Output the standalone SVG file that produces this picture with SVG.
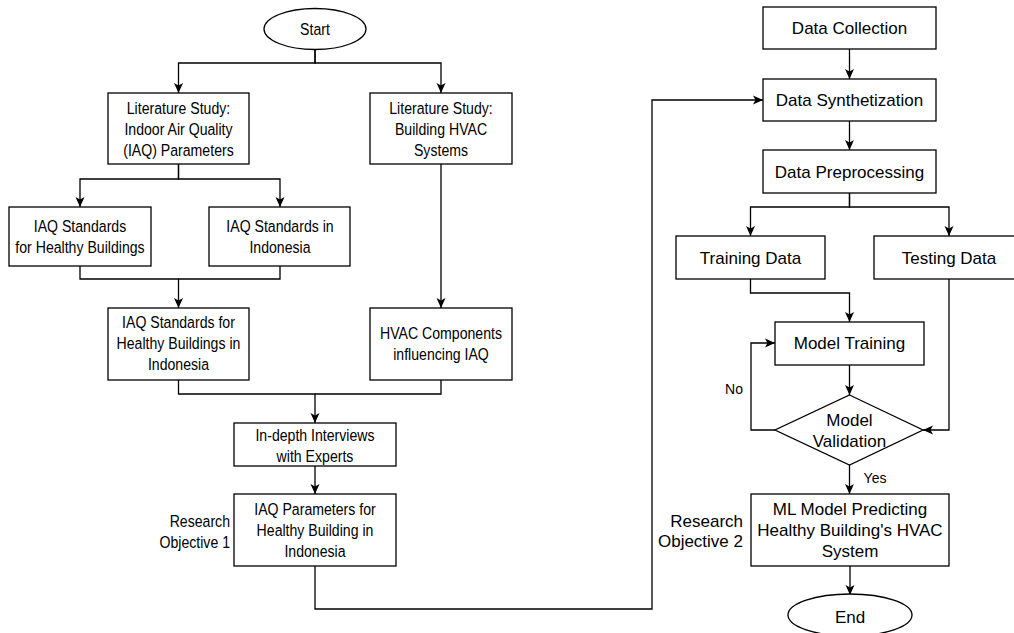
<svg xmlns="http://www.w3.org/2000/svg" width="1014" height="633" viewBox="0 0 1014 633">
<style>
.box{fill:#fff;stroke:#000;stroke-width:1.3}
.t{font-family:"Liberation Sans",Arial,sans-serif;font-size:17px;fill:#000;text-anchor:middle}
.r{text-anchor:end}
.s{font-size:14px}
.c{fill:none;stroke:#000;stroke-width:1.3}
</style>
<defs>
<marker id="ah" viewBox="0 0 10 10" markerWidth="10" markerHeight="10" refX="10" refY="5" orient="auto" markerUnits="userSpaceOnUse">
<path d="M0,0.5 L10,5 L0,9.5 L2.5,5 Z" fill="#000"/>
</marker>
</defs>
<rect width="1014" height="633" fill="#fff"/>
<g id="connectors">
<path class="c" d="M315 49 V63 H178.5 V93" marker-end="url(#ah)"/>
<path class="c" d="M315 49 V63 H441 V93" marker-end="url(#ah)"/>
<path class="c" d="M178.5 164 V179 H80 V207" marker-end="url(#ah)"/>
<path class="c" d="M178.5 164 V179 H280 V207" marker-end="url(#ah)"/>
<path class="c" d="M80 266 V279 H178.5 V308" marker-end="url(#ah)"/>
<path class="c" d="M280 266 V279 H178.5"/>
<path class="c" d="M441 164 V308" marker-end="url(#ah)"/>
<path class="c" d="M178.5 380 V394 H315 V423" marker-end="url(#ah)"/>
<path class="c" d="M441 380 V394 H315"/>
<path class="c" d="M315 466 V494" marker-end="url(#ah)"/>
<path class="c" d="M315 566 V609 H652 V100 H763" marker-end="url(#ah)"/>
<path class="c" d="M849.5 49 V79" marker-end="url(#ah)"/>
<path class="c" d="M849.5 121 V150" marker-end="url(#ah)"/>
<path class="c" d="M849.5 193 V207 H750.5 V236" marker-end="url(#ah)"/>
<path class="c" d="M849.5 193 V207 H949 V236" marker-end="url(#ah)"/>
<path class="c" d="M750.5 279 V293 H849.5 V322" marker-end="url(#ah)"/>
<path class="c" d="M849.5 365 V395" marker-end="url(#ah)"/>
<path class="c" d="M775 430 H751 V343 H775" marker-end="url(#ah)"/>
<path class="c" d="M949 279 V430 H923" marker-end="url(#ah)"/>
<path class="c" d="M849.5 465 V494" marker-end="url(#ah)"/>
<path class="c" d="M850 566 V595" marker-end="url(#ah)"/>
<text class="t s" x="734" y="394">No</text>
<text class="t s" x="875" y="483">Yes</text>
</g>
<g id="start">
<ellipse class="box" cx="315" cy="29" rx="51" ry="20.5"/>
<text class="t" x="315" y="35" transform="matrix(0.83 0 0 1 53.55 0)">Start</text>
</g>
<g id="lit-iaq">
<rect class="box" x="108" y="93" width="141" height="71"/>
<text class="t" transform="matrix(0.83 0 0 1 30.345 0)"><tspan x="178.5" y="114">Literature Study:</tspan><tspan x="178.5" y="135">Indoor Air Quality</tspan><tspan x="178.5" y="156">(IAQ) Parameters</tspan></text>
</g>
<g id="lit-hvac">
<rect class="box" x="370" y="93" width="142" height="71"/>
<text class="t" transform="matrix(0.83 0 0 1 74.97 0)"><tspan x="441" y="114">Literature Study:</tspan><tspan x="441" y="135">Building HVAC</tspan><tspan x="441" y="156">Systems</tspan></text>
</g>
<g id="iaq-healthy">
<rect class="box" x="9" y="207" width="142" height="59"/>
<text class="t" transform="matrix(0.83 0 0 1 13.6 0)"><tspan x="80" y="232">IAQ Standards</tspan><tspan x="80" y="253">for Healthy Buildings</tspan></text>
</g>
<g id="iaq-indonesia">
<rect class="box" x="209" y="207" width="141" height="59"/>
<text class="t" transform="matrix(0.83 0 0 1 47.6 0)"><tspan x="280" y="232">IAQ Standards in</tspan><tspan x="280" y="253">Indonesia</tspan></text>
</g>
<g id="iaq-healthy-indonesia">
<rect class="box" x="108" y="308" width="141" height="72"/>
<text class="t" transform="matrix(0.83 0 0 1 30.345 0)"><tspan x="178.5" y="328">IAQ Standards for</tspan><tspan x="178.5" y="349">Healthy Buildings in</tspan><tspan x="178.5" y="370">Indonesia</tspan></text>
</g>
<g id="hvac-components">
<rect class="box" x="370" y="308" width="142" height="72"/>
<text class="t" transform="matrix(0.83 0 0 1 74.97 0)"><tspan x="441" y="339">HVAC Components</tspan><tspan x="441" y="360">influencing IAQ</tspan></text>
</g>
<g id="interviews">
<rect class="box" x="234" y="423" width="162" height="43"/>
<text class="t" transform="matrix(0.83 0 0 1 53.55 0)"><tspan x="315" y="441">In-depth Interviews</tspan><tspan x="315" y="462">with Experts</tspan></text>
</g>
<g id="iaq-parameters">
<rect class="box" x="234" y="494" width="162" height="72"/>
<text class="t" transform="matrix(0.83 0 0 1 53.55 0)"><tspan x="315" y="515">IAQ Parameters for</tspan><tspan x="315" y="536">Healthy Building in</tspan><tspan x="315" y="557">Indonesia</tspan></text>
<text class="t r" transform="matrix(0.83 0 0 1 39.1 0)"><tspan x="230" y="527">Research</tspan><tspan x="230" y="548">Objective 1</tspan></text>
</g>
<g id="data-collection">
<rect class="box" x="763" y="7" width="173" height="42"/>
<text class="t" x="849.5" y="34">Data Collection</text>
</g>
<g id="data-synthetization">
<rect class="box" x="763" y="79" width="173" height="42"/>
<text class="t" x="849.5" y="106">Data Synthetization</text>
</g>
<g id="data-preprocessing">
<rect class="box" x="763" y="150" width="173" height="43"/>
<text class="t" x="849.5" y="178">Data Preprocessing</text>
</g>
<g id="training-data">
<rect class="box" x="676" y="236" width="149" height="43"/>
<text class="t" x="750.5" y="264">Training Data</text>
</g>
<g id="testing-data">
<rect class="box" x="874" y="236" width="150" height="43"/>
<text class="t" x="949" y="264">Testing Data</text>
</g>
<g id="model-training">
<rect class="box" x="775" y="322" width="149" height="43"/>
<text class="t" x="849.5" y="349">Model Training</text>
</g>
<g id="model-validation">
<polygon class="box" points="849.5,395 923,430 849.5,465 775,430"/>
<text class="t"><tspan x="849.5" y="426">Model</tspan><tspan x="849.5" y="447">Validation</tspan></text>
</g>
<g id="ml-model">
<rect class="box" x="751" y="494" width="198" height="72"/>
<text class="t"><tspan x="850" y="515">ML Model Predicting</tspan><tspan x="850" y="536">Healthy Building's HVAC</tspan><tspan x="850" y="557">System</tspan></text>
<text class="t r"><tspan x="743" y="527">Research</tspan><tspan x="743" y="547">Objective 2</tspan></text>
</g>
<g id="end">
<ellipse class="box" cx="850" cy="615" rx="62" ry="21"/>
<text class="t" x="850" y="623">End</text>
</g>
</svg>
